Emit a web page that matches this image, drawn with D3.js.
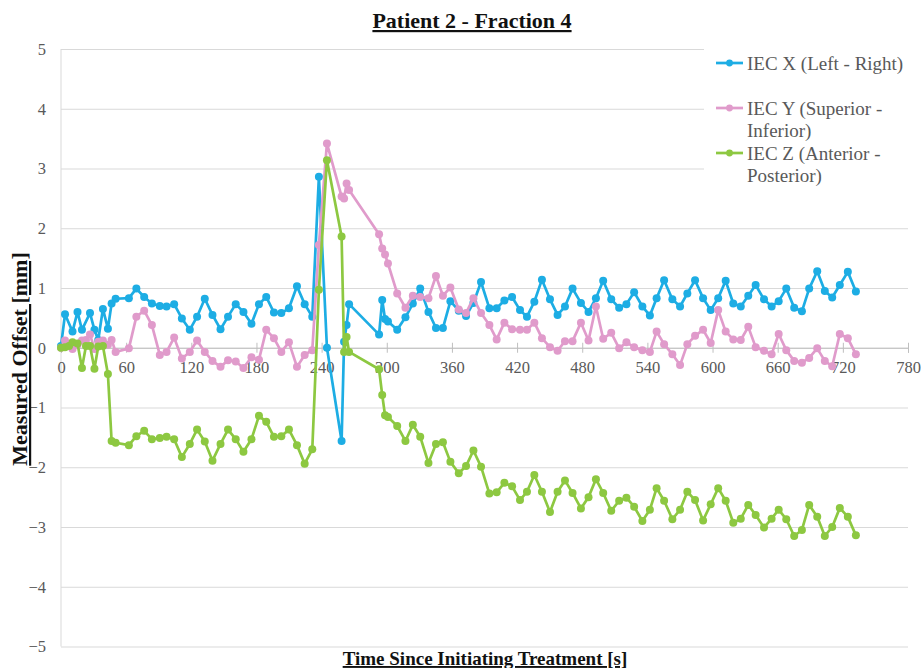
<!DOCTYPE html>
<html><head><meta charset="utf-8">
<script src="https://cdn.jsdelivr.net/npm/d3@7"></script>
<style>html,body{margin:0;padding:0;background:#fff;}svg{display:block;}</style>
</head><body>
<script>
const times = [0,3.7,7.4,10.6,15.2,19.3,23.0,26.7,30.8,34.3,38.6,43.2,46.6,50.3,
62.5,69.4,76.6,83.7,91.0,97.2,104.2,111.3,118.6,125.3,132.4,139.5,146.9,153.8,160.9,168.0,175.4,182.3,189.0,196.1,202.9,209.9,217.3,224.4,231.4,237.5,244.9,
258.4,260.7,263.0,265.3,
292.9,295.8,298.4,301.1,309.6,
317.2,324.0,330.8,338.4,345.3,351.7,358.6,366.3,373.0,379.8,386.8,394.5,401.2,408.3,415.4,422.7,429.1,435.9,442.9,450.3,457.3,464.1,471.1,478.8,485.8,492.6,499.3,506.7,514.0,520.7,527.8,535.4,542.3,548.5,
555.4,563.0,570.1,576.8,583.9,591.3,598.3,605.2,612.1,619.1,626.0,632.9,639.7,647.4,654.4,660.9,667.9,675.2,682.3,689.0,696.4,703.4,710.2,717.2,724.6,732.0];

const iecX = [0.03,0.56,null,0.27,0.60,0.30,null,0.58,0.30,0.13,0.65,0.32,0.74,0.82,
0.83,0.99,0.85,0.74,0.70,0.69,0.73,0.49,0.30,0.52,0.82,0.55,0.31,0.52,0.73,0.60,0.40,0.73,0.85,0.59,0.58,0.66,1.03,0.73,0.52,2.86,0.00,
-1.56,0.10,0.38,0.73,
0.22,0.80,0.48,0.44,0.30,
0.51,0.74,0.99,0.60,0.33,0.33,0.78,0.62,0.53,0.75,1.10,0.66,0.66,0.79,0.85,0.63,0.52,0.77,1.14,0.81,0.55,0.69,0.99,0.75,0.60,0.83,1.12,0.81,0.67,0.73,0.93,0.69,0.54,0.83,
1.13,0.81,0.69,0.91,1.13,0.83,0.63,0.83,1.12,0.74,0.69,0.87,1.05,0.81,0.69,0.78,0.99,0.67,0.61,0.99,1.28,0.95,0.84,1.05,1.27,0.94];

const iecY = [0.00,0.12,0.05,-0.02,0.05,0.12,0.13,0.22,-0.02,0.10,0.12,0.05,0.13,-0.07,
-0.01,0.52,0.62,0.38,-0.12,-0.07,0.17,-0.18,-0.07,0.12,-0.07,-0.22,-0.32,-0.21,-0.23,-0.34,-0.16,-0.20,0.30,0.16,-0.07,0.09,-0.32,-0.12,-0.04,1.72,3.42,
2.53,2.50,2.75,2.64,
1.90,1.66,1.56,1.41,0.91,
0.67,0.87,0.85,0.83,1.20,0.87,1.01,0.64,0.58,0.83,0.58,0.38,0.14,0.42,0.31,0.30,0.30,0.42,0.16,0.01,-0.05,0.11,0.11,0.42,0.12,0.69,0.15,0.25,-0.01,0.09,0.01,-0.04,-0.07,0.27,
0.06,-0.11,-0.29,0.06,0.20,0.30,0.08,0.63,0.27,0.14,0.13,0.35,0.01,-0.05,-0.11,0.23,-0.04,-0.22,-0.25,-0.17,-0.01,-0.22,-0.31,0.23,0.16,-0.11];

const iecZ = [0.00,0.01,0.03,0.09,0.07,-0.34,0.03,0.03,-0.35,0.02,0.03,-0.44,-1.56,-1.59,
-1.63,-1.48,-1.39,-1.53,-1.51,-1.49,-1.53,-1.83,-1.61,-1.37,-1.57,-1.89,-1.61,-1.37,-1.53,-1.74,-1.53,-1.14,-1.24,-1.49,-1.48,-1.37,-1.63,-1.94,-1.70,0.97,3.14,
1.86,-0.07,0.18,-0.07,
-0.36,-0.79,-1.13,-1.16,-1.31,
-1.56,-1.29,-1.49,-1.93,-1.61,-1.58,-1.91,-2.10,-1.98,-1.72,-1.99,-2.44,-2.42,-2.26,-2.32,-2.55,-2.41,-2.13,-2.41,-2.75,-2.41,-2.22,-2.43,-2.69,-2.50,-2.20,-2.43,-2.73,-2.56,-2.51,-2.66,-2.90,-2.71,-2.35,
-2.56,-2.87,-2.71,-2.41,-2.55,-2.89,-2.62,-2.35,-2.56,-2.93,-2.86,-2.63,-2.80,-3.01,-2.86,-2.71,-2.87,-3.15,-3.05,-2.63,-2.83,-3.15,-3.00,-2.68,-2.83,-3.14];

const seriesNames = ["IEC X (Left - Right)", "IEC Y (Superior - Inferior)", "IEC Z (Anterior - Posterior)"];
const legendLines = [["IEC X (Left - Right)"], ["IEC Y (Superior -", "Inferior)"], ["IEC Z (Anterior -", "Posterior)"]];
const xTicks = [0,60,120,180,240,300,360,420,480,540,600,660,720,780];
const yTicks = [-5,-4,-3,-2,-1,0,1,2,3,4,5];
const colors = ["#1DADE4", "#E09BCB", "#8DC841"];
const titleText = "Patient 2 - Fraction 4";
const xTitle = "Time Since Initiating Treatment [s]";
const yTitle = "Measured Offset [mm]";

const W = 921, H = 668;
const FONT = "'Liberation Serif','Times New Roman',serif";
const svg = d3.select("body").append("svg").attr("width", W).attr("height", H);

const x = d3.scaleLinear().domain([0, 780]).range([61, 908]);
const y = d3.scaleLinear().domain([-5, 5]).range([646.5, 49]);

// gridlines
const grid = svg.append("g").attr("transform", `translate(${x(0)},0)`)
  .call(d3.axisLeft(y).tickValues(yTicks).tickSize(-(x(780) - x(0))).tickFormat(""));
grid.select(".domain").remove();
grid.selectAll("line").attr("stroke", "#d9d9d9").attr("stroke-width", 1);

// left axis line
svg.append("line").attr("x1", x(0)).attr("x2", x(0)).attr("y1", y(5)).attr("y2", y(-5))
  .attr("stroke", "#d9d9d9").attr("stroke-width", 1);

// y tick labels
const yAx = svg.append("g").attr("transform", `translate(${x(0)},0)`)
  .call(d3.axisLeft(y).tickValues(yTicks).tickSize(0).tickPadding(15).tickFormat(d3.format("d")));
yAx.select(".domain").remove();
yAx.selectAll("text").attr("font-family", FONT).attr("font-size", 16.5).attr("fill", "#595959");

// x axis at zero
const xAx = svg.append("g").attr("transform", `translate(0,${y(0)})`)
  .call(d3.axisBottom(x).tickValues(xTicks).tickSize(5).tickFormat(d3.format("d")));
xAx.select(".domain").attr("stroke", "#bfbfbf").attr("stroke-width", 1);
xAx.selectAll("line").attr("stroke", "#bfbfbf").attr("y1", -5).attr("y2", 5);
xAx.selectAll("text").attr("font-family", FONT).attr("font-size", 16.5).attr("fill", "#595959")
  .attr("y", 14).attr("dy", "0.71em");

// series
const allSeries = [iecX, iecY, iecZ];
const line = d3.line().x(d => x(d[0])).y(d => y(d[1]));
allSeries.forEach((vals, i) => {
  const pts = times.map((t, j) => [t, vals[j]]).filter(d => d[1] !== null);
  const g = svg.append("g");
  g.append("path").datum(pts).attr("d", line).attr("fill", "none")
    .attr("stroke", colors[i]).attr("stroke-width", 2.7).attr("stroke-linejoin", "round");
  g.selectAll("circle").data(pts).join("circle")
    .attr("cx", d => x(d[0])).attr("cy", d => y(d[1])).attr("r", 4).attr("fill", colors[i]);
});

// legend
const lg = svg.append("g");
lg.append("rect").attr("x", 704).attr("y", 42).attr("width", 217).attr("height", 148).attr("fill", "#fff");
const legY = [63, 108, 153];
legendLines.forEach((lines, i) => {
  lg.append("line").attr("x1", 716).attr("x2", 743).attr("y1", legY[i]).attr("y2", legY[i])
    .attr("stroke", colors[i]).attr("stroke-width", 2.7);
  lg.append("circle").attr("cx", 729.5).attr("cy", legY[i]).attr("r", 3.4).attr("fill", colors[i]);
  lines.forEach((s, k) => {
    lg.append("text").attr("x", 747).attr("y", legY[i] + 6.5 + k * 22)
      .attr("font-family", FONT).attr("font-size", 19).attr("fill", "#595959").text(s);
  });
});

// title
svg.append("text").attr("x", 472).attr("y", 28).attr("text-anchor", "middle")
  .attr("font-family", FONT).attr("font-size", 22).attr("font-weight", "bold")
  .style("text-decoration", "underline").attr("fill", "#111").text(titleText);

// axis titles
svg.append("text").attr("x", 485).attr("y", 665).attr("text-anchor", "middle")
  .attr("font-family", FONT).attr("font-size", 19).attr("font-weight", "bold")
  .style("text-decoration", "underline").attr("fill", "#111").text(xTitle);
svg.append("text").attr("transform", "translate(27,359) rotate(-90)").attr("text-anchor", "middle")
  .attr("font-family", FONT).attr("font-size", 22).attr("font-weight", "bold")
  .style("text-decoration", "underline").attr("fill", "#111").text(yTitle);
</script>
</body></html>
